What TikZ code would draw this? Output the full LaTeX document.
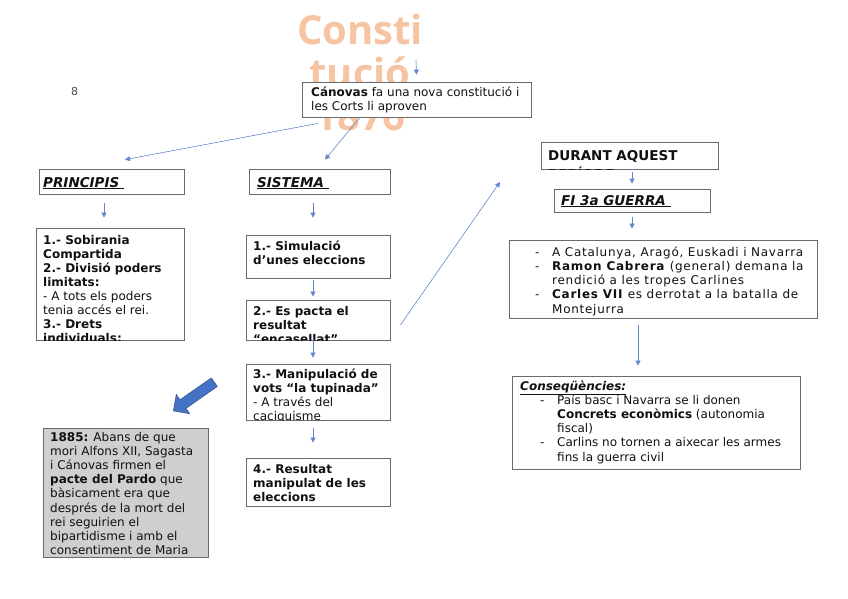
\documentclass[tikz,border=0pt]{standalone}
\usepackage{fontspec}
\setmainfont{DejaVu Sans}
\newfontfamily\titlefont{Open Sans}
\newfontfamily\widefont[LetterSpace=6]{DejaVu Sans}
\usepackage{tikz}
\usetikzlibrary{arrows.meta,shapes.arrows}
\definecolor{ink}{HTML}{111111}
\definecolor{boxline}{HTML}{6B6B6B}
\definecolor{flowblue}{HTML}{4472C4}
\definecolor{peach}{HTML}{F6C4A0}
\definecolor{notegray}{HTML}{D0CECE}
\tikzset{
  box/.style={draw=boxline, fill=white, line width=0.8pt, inner sep=0pt},
  notebox/.style={box, fill=notegray},
  % anchored on the baseline of the last line
  txt/.style={font=\fontsize{12}{14}\selectfont, text=ink, align=left,
    inner sep=0pt, anchor=base west},
  headtxt/.style={txt, font=\fontsize{13.5}{16}\selectfont\bfseries\itshape},
  flow/.style={-{Triangle[length=5pt,width=5pt]}, draw=flowblue!85,
    line width=0.6pt},
  bigarrow/.style={single arrow, fill=flowblue, draw=flowblue!70!black,
    line width=0.5pt, inner sep=5pt, minimum height=50pt,
    single arrow head extend=6.5pt}
}

\begin{document}
\begin{tikzpicture}[x=1pt,y=-1pt]
  \useasboundingbox (0,0) rectangle (848,599);

  % title behind the first box
  \node[font=\titlefont\bfseries\fontsize{40}{43}\selectfont, text=peach,
    align=center, anchor=base] (title) at (360,131) {Consti\\tució\\1876};
  \node[txt, font=\fontsize{11}{13}\selectfont, text=ink!75] (pageno) at (71,96) {8};

  % Canovas
  \node[box, minimum width=229pt, minimum height=35pt] (canovas) at (416.5,99.5) {};
  \node[txt, font=\fontsize{12}{13.5}\selectfont] (canovasT) at (311,110.5)
     {\textbf{Cánovas} fa una nova constitució i\\les Corts li aproven};
  \coordinate (topStart) at (416,60);

  % principis column
  \node[box, minimum width=145pt, minimum height=25pt] (principis) at (111.5,181.5) {};
  \node[headtxt] (principisT) at (43,187) {\underline{PRINCIPIS\ }};
  \node[box, minimum width=148pt, minimum height=112pt] (prinbox) at (110,284) {};
  \begin{scope}
    \clip (prinbox.south west) rectangle (prinbox.north east);
    \node[txt] (prinboxT) at (43,342)
       {\textbf{1.- Sobirania}\\\textbf{Compartida}\\\textbf{2.- Divisió poders}\\
        \textbf{limitats:}\\- A tots els poders\\tenia accés el rei.\\
        \textbf{3.- Drets}\\\textbf{individuals:}};
  \end{scope}

  % sistema column
  \node[box, minimum width=141pt, minimum height=25pt] (sistema) at (319.5,181.5) {};
  \node[headtxt] (sistemaT) at (257,187) {\underline{SISTEMA\ }};
  \node[box, minimum width=144pt, minimum height=43pt] (s1) at (318,256.5) {};
  \node[txt, font=\fontsize{12}{14}\selectfont\bfseries] (s1T) at (253,264)
     {1.- Simulació\\d’unes eleccions};
  \node[box, minimum width=144pt, minimum height=40pt] (s2) at (318,320) {};
  \begin{scope}
    \clip (s2.south west) rectangle (s2.north east);
    \node[txt, font=\fontsize{12}{14}\selectfont\bfseries] (s2T) at (253,343)
       {2.- Es pacta el\\resultat\\“encasellat”};
  \end{scope}
  \node[box, minimum width=144pt, minimum height=56pt] (s3) at (318,392) {};
  \begin{scope}
    \clip (s3.south west) rectangle (s3.north east);
    \node[txt] (s3T) at (253,420)
       {\textbf{3.- Manipulació de}\\\textbf{vots “la tupinada”}\\- A través del\\caciquisme};
  \end{scope}
  \node[box, minimum width=144pt, minimum height=48pt] (s4) at (318,482) {};
  \node[txt, font=\fontsize{12}{14}\selectfont\bfseries] (s4T) at (253,501)
     {4.- Resultat\\manipulat de les\\eleccions};

  % pacte del Pardo
  \node[bigarrow, rotate=215] (bigArrow) at (196,395) {};
  \node[notebox, minimum width=165pt, minimum height=129pt] (pardo) at (125.5,492.5) {};
  \begin{scope}
    \clip (pardo.south west) rectangle (pardo.north east);
    \node[txt, font=\fontsize{12}{14.2}\selectfont] (pardoT) at (50,554.6)
       {\textbf{1885:} Abans de que\\mori Alfons XII, Sagasta\\i Cánovas firmen el\\
        \textbf{pacte del Pardo} que\\bàsicament era que\\després de la mort del\\
        rei seguirien el\\bipartidisme i amb el\\consentiment de Maria};
  \end{scope}

  % right column
  \node[box, minimum width=177pt, minimum height=27pt] (durant) at (629.5,155.5) {};
  \begin{scope}
    \clip (durant.south west) rectangle (durant.north east);
    \node[txt, font=\fontsize{13.5}{19}\selectfont\bfseries] (durantT) at (548,179)
       {DURANT AQUEST\\\underline{PERÍODE}};
  \end{scope}
  \node[box, minimum width=156pt, minimum height=23pt] (fi) at (632,200.5) {};
  \node[headtxt] (fiT) at (561,205) {\underline{FI 3a GUERRA\ }};
  \node[box, minimum width=308pt, minimum height=78pt] (carl) at (663,279) {};
  \node[txt, font=\widefont\fontsize{12}{14.25}\selectfont] (carlT) at (535,313)
     {\makebox[17pt][l]{-}A Catalunya, Aragó, Euskadi i Navarra\\
      \makebox[17pt][l]{-}\textbf{Ramon Cabrera} (general) demana la\\
      \makebox[17pt]{}rendició a les tropes Carlines\\
      \makebox[17pt][l]{-}\textbf{Carles VII} es derrotat a la batalla de\\
      \makebox[17pt]{}Montejurra};
  \node[box, minimum width=288pt, minimum height=93pt] (conseq) at (656,422.5) {};
  \node[txt, font=\fontsize{12}{14.2}\selectfont] (conseqT) at (520,461)
     {\textbf{\textit{\underline{Conseqüències:}}}\\
      \makebox[20pt]{}\makebox[17pt][l]{-}País basc i Navarra se li donen\\
      \makebox[37pt]{}\textbf{Concrets econòmics} (autonomia\\
      \makebox[37pt]{}fiscal)\\
      \makebox[20pt]{}\makebox[17pt][l]{-}Carlins no tornen a aixecar les armes\\
      \makebox[37pt]{}fins la guerra civil};
  \coordinate (diagEnd) at (500,182);

  % edges
  \draw[flow] (topStart) -- ([yshift=7pt]canovas.north);
  \draw[flow] ([xshift=-98.5pt,yshift=-6pt]canovas.south)
     -- ([xshift=13.5pt,yshift=9pt]principis.north);
  \draw[flow] ([xshift=-56.5pt]canovas.south)
     -- ([xshift=5.5pt,yshift=9pt]sistema.north);
  \draw[flow] ([xshift=-7.5pt,yshift=-9pt]principis.south)
     -- ([xshift=-6pt,yshift=10pt]prinbox.north);
  \draw[flow] ([xshift=-6.5pt,yshift=-9pt]sistema.south)
     -- ([xshift=-5pt,yshift=17pt]s1.north);
  \draw[flow] ([xshift=-5pt,yshift=-2pt]s1.south) -- ([xshift=-5pt,yshift=3pt]s2.north);
  \draw[flow] ([xshift=-5pt]s2.south) -- ([xshift=-5pt,yshift=6pt]s3.north);
  \draw[flow] ([xshift=-5pt,yshift=-8pt]s3.south) -- ([xshift=-5pt,yshift=15pt]s4.north);
  \draw[flow] ([xshift=10pt,yshift=-5pt]s2.east) -- (diagEnd);
  \draw[flow] ([xshift=2.5pt,yshift=-3pt]durant.south) -- ([yshift=5pt]fi.north);
  \draw[flow] ([yshift=-5pt]fi.south) -- ([xshift=-31pt,yshift=11pt]carl.north);
  \draw[flow] ([xshift=-25pt,yshift=-7pt]carl.south)
     -- ([xshift=-18pt,yshift=10pt]conseq.north);
\end{tikzpicture}
\end{document}
